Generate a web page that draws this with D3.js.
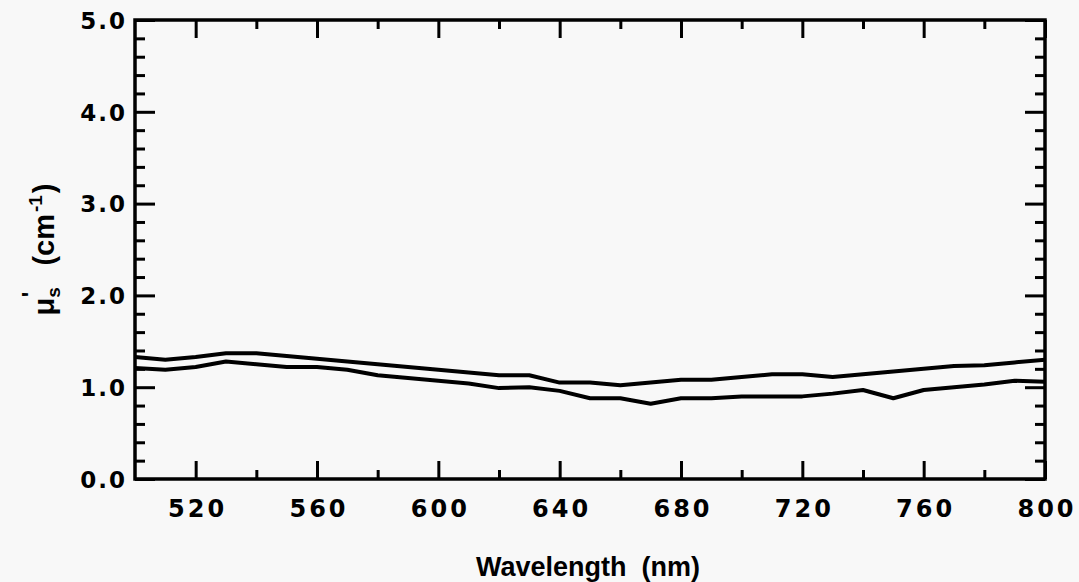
<!DOCTYPE html>
<html>
<head>
<meta charset="utf-8">
<script src="https://cdn.jsdelivr.net/npm/d3@7"></script>
<style>
  body { margin: 0; background: #f8f8f8; }
  svg { display: block; }
  .tick text { font-family: "DejaVu Sans", sans-serif; font-weight: bold; }
</style>
</head>
<body>
<div id="chart"></div>
<script>
// wavelength (nm), sampled every 10 nm
var wavelengths = [500, 510, 520, 530, 540, 550, 560, 570, 580, 590, 600,
  610, 620, 630, 640, 650, 660, 670, 680, 690, 700,
  710, 720, 730, 740, 750, 760, 770, 780, 790, 800];
// reduced scattering coefficient, upper curve
var upperValues = [1.33, 1.30, 1.33, 1.37, 1.37, 1.34, 1.31, 1.28, 1.25, 1.22, 1.19,
  1.16, 1.13, 1.13, 1.05, 1.05, 1.02, 1.05, 1.08, 1.08, 1.11,
  1.14, 1.14, 1.11, 1.14, 1.17, 1.20, 1.23, 1.24, 1.27, 1.30];
// lower curve
var lowerValues = [1.21, 1.19, 1.22, 1.28, 1.25, 1.22, 1.22, 1.19, 1.13, 1.10, 1.07,
  1.04, 0.99, 1.00, 0.96, 0.88, 0.88, 0.82, 0.88, 0.88, 0.90,
  0.90, 0.90, 0.93, 0.97, 0.88, 0.97, 1.00, 1.03, 1.07, 1.06];
var xMajorTicks = [520, 560, 600, 640, 680, 720, 760, 800];
var xMinorTicks = [540, 580, 620, 660, 700, 740, 780];
var yMajorTicks = [0, 1, 2, 3, 4, 5];
var yMinorTicks = [0.2, 0.4, 0.6, 0.8, 1.2, 1.4, 1.6, 1.8, 2.2, 2.4, 2.6, 2.8,
  3.2, 3.4, 3.6, 3.8, 4.2, 4.4, 4.6, 4.8];

var W = 1079, H = 582;
var pLeft = 135, pRight = 1045, pTop = 20, pBottom = 479;

var x = d3.scaleLinear().domain([500, 800]).range([pLeft, pRight]);
var y = d3.scaleLinear().domain([0, 5]).range([pBottom, pTop]);

var svg = d3.select("#chart").append("svg")
  .attr("width", W)
  .attr("height", H);

svg.append("rect").attr("width", W).attr("height", H).attr("fill", "#f8f8f8");

// bottom axis with labels
var gx = svg.append("g")
  .attr("transform", "translate(0," + pBottom + ")")
  .call(d3.axisBottom(x).tickValues(xMajorTicks).tickSize(-18).tickSizeOuter(0)
    .tickFormat(d3.format("d")));
gx.selectAll(".tick text")
  .attr("dy", 0)
  .attr("y", 38)
  .attr("dx", 1.5)
  .style("font-size", "24px")
  .style("letter-spacing", "3px")
  .attr("fill", "#000");
svg.append("g")
  .attr("transform", "translate(0," + pBottom + ")")
  .call(d3.axisBottom(x).tickValues(xMinorTicks).tickSize(-9).tickSizeOuter(0).tickFormat(""));

// top axis
svg.append("g")
  .attr("transform", "translate(0," + pTop + ")")
  .call(d3.axisTop(x).tickValues(xMajorTicks).tickSize(-18).tickSizeOuter(0).tickFormat(""));
svg.append("g")
  .attr("transform", "translate(0," + pTop + ")")
  .call(d3.axisTop(x).tickValues(xMinorTicks).tickSize(-9).tickSizeOuter(0).tickFormat(""));

// left axis with labels
var gy = svg.append("g")
  .attr("transform", "translate(" + pLeft + ",0)")
  .call(d3.axisLeft(y).tickValues(yMajorTicks).tickSize(-20).tickSizeOuter(0)
    .tickFormat(d3.format(".1f")));
gy.selectAll(".tick text")
  .attr("x", -8)
  .attr("dy", "0.36em")
  .style("font-size", "23px")
  .style("letter-spacing", "2px")
  .attr("fill", "#000");
svg.append("g")
  .attr("transform", "translate(" + pLeft + ",0)")
  .call(d3.axisLeft(y).tickValues(yMinorTicks).tickSize(-10).tickSizeOuter(0).tickFormat(""));

// right axis
svg.append("g")
  .attr("transform", "translate(" + pRight + ",0)")
  .call(d3.axisRight(y).tickValues(yMajorTicks).tickSize(-20).tickSizeOuter(0).tickFormat(""));
svg.append("g")
  .attr("transform", "translate(" + pRight + ",0)")
  .call(d3.axisRight(y).tickValues(yMinorTicks).tickSize(-10).tickSizeOuter(0).tickFormat(""));

svg.selectAll(".domain").remove();
svg.selectAll(".tick line").attr("stroke", "#000").attr("stroke-width", 3);

// frame
svg.append("rect")
  .attr("x", pLeft).attr("y", pTop)
  .attr("width", pRight - pLeft).attr("height", pBottom - pTop)
  .attr("fill", "none")
  .attr("stroke", "#000")
  .attr("stroke-width", 3.5);

// curves
var line = d3.line()
  .x(function(d) { return x(d[0]); })
  .y(function(d) { return y(d[1]); });

[upperValues, lowerValues].forEach(function(vals) {
  svg.append("path")
    .datum(wavelengths.map(function(w, i) { return [w, vals[i]]; }))
    .attr("fill", "none")
    .attr("stroke", "#000")
    .attr("stroke-width", 4)
    .attr("stroke-linejoin", "round")
    .attr("d", line);
});

// x title
svg.append("text")
  .attr("x", (pLeft + pRight) / 2 - 2)
  .attr("y", 576)
  .attr("text-anchor", "middle")
  .style("font-family", "Liberation Sans, Arial, sans-serif")
  .style("font-weight", "bold")
  .style("font-size", "27px")
  .style("white-space", "pre")
  .text("Wavelength  (nm)");

// y title: mu_s' (cm^-1)
var yt = svg.append("text")
  .attr("transform", "translate(54," + ((pTop + pBottom) / 2) + ") rotate(-90)")
  .attr("text-anchor", "middle")
  .style("font-family", "Liberation Sans, Arial, sans-serif")
  .style("font-weight", "bold")
  .style("font-size", "29px");
yt.append("tspan").text("\u03bc");
yt.append("tspan").attr("dy", 6).style("font-size", "19px").text("s");
yt.append("tspan").attr("dy", -21).attr("dx", -10).style("font-size", "23px").text("'");
yt.append("tspan").attr("dy", 15).attr("dx", 10).style("white-space", "pre").text("  (cm");
yt.append("tspan").attr("dy", -12).attr("dx", 2).style("font-size", "19px").text("-1");
yt.append("tspan").attr("dy", 12).attr("dx", 2).text(")");
</script>
</body>
</html>
